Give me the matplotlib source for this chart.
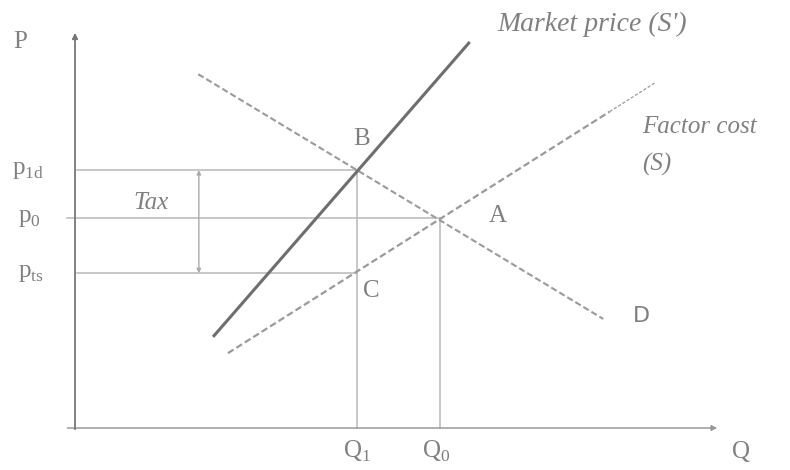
import matplotlib
matplotlib.use("Agg")
import matplotlib.pyplot as plt

# quantities / prices (axis units: 0..100)
q1, q0 = 43.7, 56.6
p1d, p0, pts = 64.8, 52.8, 38.9

demand_q = [19.1, 81.9]
demand_p = [88.9, 27.4]

supply_q = [23.7, 82.9]          # factor cost S, main part
supply_p = [18.8, 79.5]
supply_ext_q = [82.9, 89.9]      # thinner tail
supply_ext_p = [79.5, 86.7]

market_q = [21.4, 61.2]          # market price S'
market_p = [22.9, 97.0]

tax_q = 19.2

line_col = "#b8b8b8"
dash_col = "#9a9a9a"
text_col = "#808080"
serif = ["Liberation Serif", "DejaVu Serif"]

fig = plt.figure(figsize=(7.9, 4.7), dpi=100)
ax = fig.add_axes([0, 0, 1, 1])
ax.set_xlim(-11.63, 110.85)
ax.set_ylim(-10.55, 107.54)
ax.axis("off")

# axes with arrow heads
ax.annotate("", xy=(100, 0), xytext=(-1.6, 0),
            arrowprops=dict(arrowstyle="-|>", color="#999999", lw=1.1, mutation_scale=8))
ax.annotate("", xy=(0, 100), xytext=(0, -1),
            arrowprops=dict(arrowstyle="-|>", color="#777777", lw=1.3, mutation_scale=8))

# guide lines
ax.plot([0.3, q1], [p1d, p1d], color=line_col, lw=1.1)
ax.plot([-1.2, q0], [p0, p0], color=line_col, lw=1.1)
ax.plot([0.3, q1], [pts, pts], color=line_col, lw=1.1)
ax.plot([q1, q1], [0, p1d], color=line_col, lw=1.1)
ax.plot([q0, q0], [0, p0], color=line_col, lw=1.1)

# tax arrow
ax.annotate("", xy=(tax_q, pts), xytext=(tax_q, p1d),
            arrowprops=dict(arrowstyle="<|-|>", color="#aaaaaa", lw=1.0,
                            mutation_scale=6, shrinkA=0, shrinkB=0))

# curves
ax.plot(demand_q, demand_p, color=dash_col, lw=1.5, dashes=(3, 1.5))
ax.plot(supply_q, supply_p, color=dash_col, lw=1.6, dashes=(3, 1.5))
ax.plot(supply_ext_q, supply_ext_p, color=dash_col, lw=0.9, dashes=(2.5, 1.5))
ax.plot(market_q, market_p, color="#6e6e6e", lw=2.2, solid_capstyle="butt")

# labels
fs = 18
ax.text(-8.5, 97, "P", fontsize=fs, family=serif, color=text_col, ha="center", va="center")
ax.text(-9.8, p1d, "p$_{\\mathregular{1d}}$", fontsize=fs, family=serif, color=text_col,
        ha="left", va="center")
ax.text(-8.8, p0, "p$_{\\mathregular{0}}$", fontsize=fs, family=serif, color=text_col,
        ha="left", va="center")
ax.text(-8.8, pts, "p$_{\\mathregular{ts}}$", fontsize=fs, family=serif, color=text_col,
        ha="left", va="center")
ax.text(11.8, 56.5, "Tax", fontsize=fs, family=serif, style="italic", color=text_col,
        ha="center", va="center")

ax.text(44.5, 72.6, "B", fontsize=fs, family=serif, color=text_col, ha="center", va="center")
ax.text(65.6, 53.3, "A", fontsize=fs, family=serif, color=text_col, ha="center", va="center")
ax.text(45.9, 34.4, "C", fontsize=fs, family=serif, color=text_col, ha="center", va="center")
ax.text(87.8, 28.1, "D", fontsize=16, family=["DejaVu Sans"], color=text_col,
        ha="center", va="center")

ax.text(65.4, 101.5, "Market price (S')", fontsize=20, family=serif, style="italic",
        color=text_col, ha="left", va="center")
ax.text(87.9, 75.6, "Factor cost", fontsize=fs, family=serif, style="italic",
        color=text_col, ha="left", va="center")
ax.text(87.9, 66.1, "(S)", fontsize=fs, family=serif, style="italic",
        color=text_col, ha="left", va="center")

ax.text(41.6, -6, "Q$_{\\mathregular{1}}$", fontsize=fs, family=serif, color=text_col,
        ha="left", va="center")
ax.text(53.8, -6, "Q$_{\\mathregular{0}}$", fontsize=fs, family=serif, color=text_col,
        ha="left", va="center")
ax.text(103.3, -6, "Q", fontsize=fs, family=serif, color=text_col, ha="center", va="center")

fig.savefig("out.png", dpi=100, facecolor="white")
